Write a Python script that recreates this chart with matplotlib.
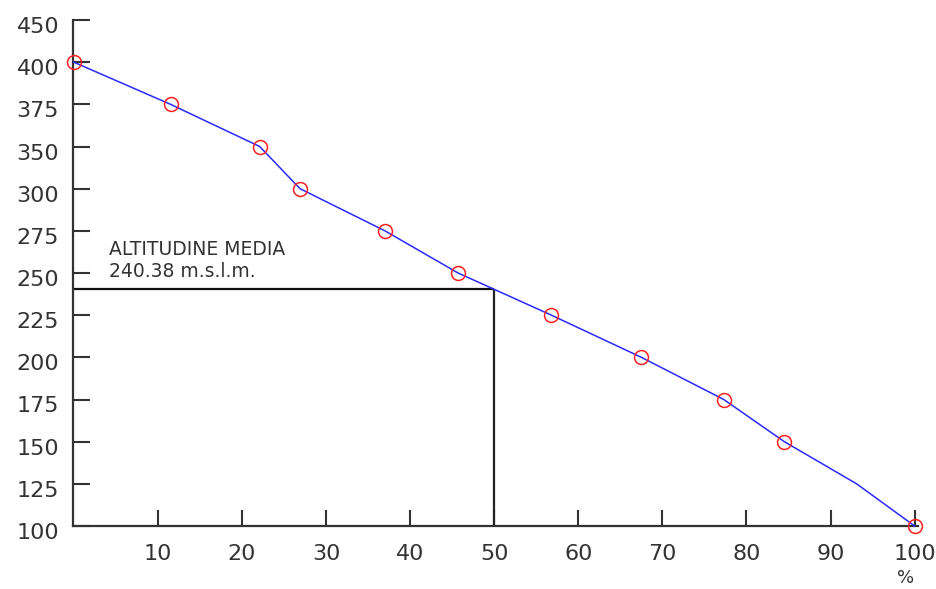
import numpy as np
import matplotlib
matplotlib.use("Agg")
import matplotlib.pyplot as plt
import matplotlib.transforms as mtransforms

# Hypsometric curve: percentage of basin area above a given altitude
area_pct = [0.0, 11.5, 22.1, 26.9, 37.0, 45.7, 56.8, 67.5, 77.3, 84.5, 93.1, 100.0]
altitude = [400, 375, 350, 300, 275, 250, 225, 200, 175, 150, 125, 100]
# vertices that carry a survey marker (the 125 m vertex is a plain bend)
marked = [0, 1, 2, 3, 4, 5, 6, 7, 8, 9, 11]

# altitude labels along the vertical axis (equally spaced on the drawing)
alt_ticks = [100, 125, 150, 175, 200, 225, 250, 275, 300, 350, 375, 400, 450]
pct_ticks = [10, 20, 30, 40, 50, 60, 70, 80, 90, 100]

mean_altitude = 240.38
median_pct = 50

tick_pos = np.arange(len(alt_ticks), dtype=float)


def forward(v):
    return np.interp(v, alt_ticks, tick_pos)


def inverse(p):
    return np.interp(p, tick_pos, alt_ticks)


W, H, DPI = 936, 589, 100
fig = plt.figure(figsize=(W / DPI, H / DPI), dpi=DPI)
ax = fig.add_axes([73 / W, (H - 526) / H, 845 / W, 506 / H])

ax.set_yscale("function", functions=(forward, inverse))
ax.set_xlim(-0.1, 100.4)
ax.set_ylim(100, 450)

ink = "#333333"

# mean altitude guide lines
ax.plot([0, median_pct], [mean_altitude, mean_altitude], color="#111111", lw=1.6,
        solid_capstyle="butt", zorder=2)
ax.plot([median_pct, median_pct], [100, mean_altitude], color="#222222", lw=1.6,
        solid_capstyle="butt", zorder=2)

ax.plot(area_pct, altitude, color="#2a2aff", lw=1.1, zorder=3, clip_on=False)
ax.plot(np.array(area_pct)[marked], np.array(altitude)[marked], linestyle="none",
        marker="o", markersize=10, markerfacecolor="none", markeredgecolor="#ff2020",
        markeredgewidth=1.1, zorder=4, clip_on=False)

ax.text(4.2, 260.7, "ALTITUDINE MEDIA", fontsize=13.5, color=ink, ha="left",
        va="baseline")
ax.text(4.2, 247.6, "240.38 m.s.l.m.", fontsize=13.5, color=ink, ha="left",
        va="baseline")

for side in ("top", "right"):
    ax.spines[side].set_visible(False)
for side in ("left", "bottom"):
    ax.spines[side].set_color(ink)
    ax.spines[side].set_linewidth(1.6)

ax.set_yticks(alt_ticks)
ax.set_yticklabels([str(t) for t in alt_ticks])
ax.set_xticks(pct_ticks)
ax.set_xticklabels([str(t) for t in pct_ticks])
ax.yaxis.set_minor_locator(matplotlib.ticker.NullLocator())
ax.tick_params(axis="y", direction="in", length=12.5, width=1.5, color=ink,
               labelsize=16, labelcolor=ink, pad=10)
ax.tick_params(axis="x", direction="in", length=11.5, width=1.5, color=ink,
               labelsize=16, labelcolor=ink, pad=13)

shift = mtransforms.ScaledTranslation(0, -5 / DPI, fig.dpi_scale_trans)
for lab in ax.get_yticklabels():
    lab.set_transform(lab.get_transform() + shift)

ax.annotate("%", xy=(100, 0), xycoords=("data", "axes fraction"),
            xytext=(-9, -43), textcoords="offset pixels", ha="center", va="top",
            fontsize=13, color=ink)

fig.savefig("out.png", dpi=DPI)
